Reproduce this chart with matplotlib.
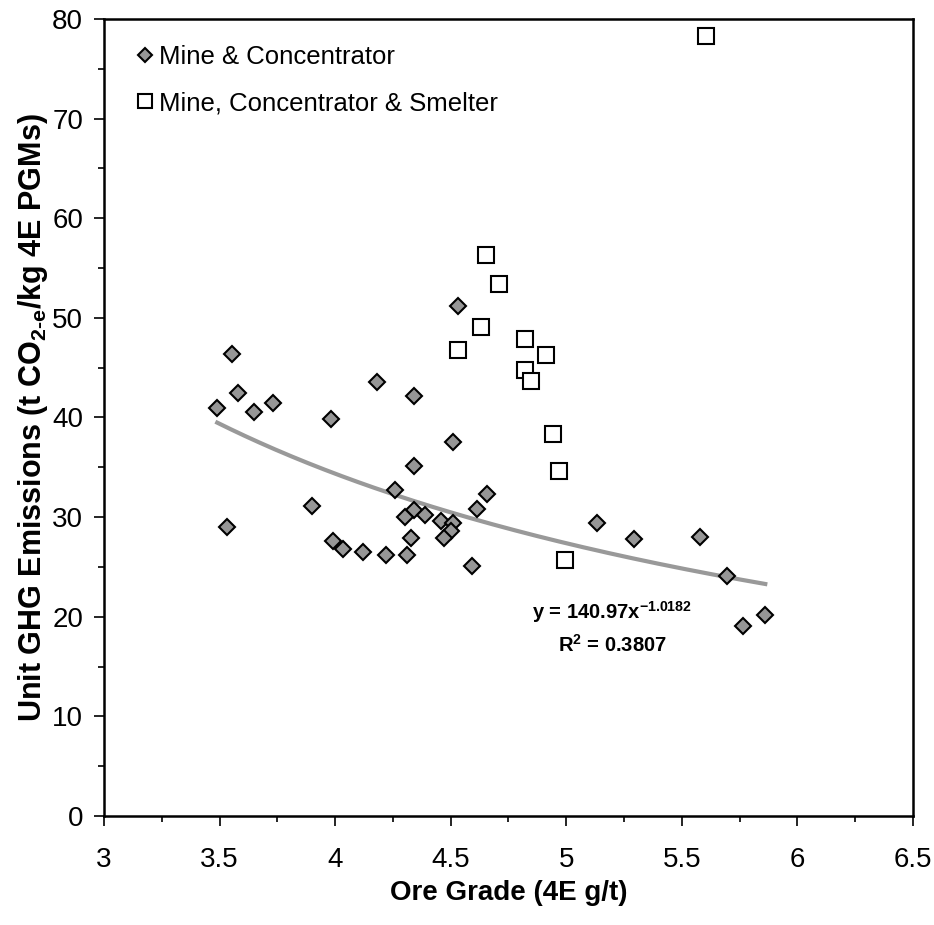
import numpy as np
import matplotlib
matplotlib.use('Agg')
import matplotlib.pyplot as plt
from matplotlib.ticker import MultipleLocator

plt.rcParams['font.family'] = ['Liberation Sans', 'DejaVu Sans']
plt.rcParams['mathtext.fontset'] = 'custom'
plt.rcParams['mathtext.rm'] = 'Liberation Sans:bold'
plt.rcParams['mathtext.bf'] = 'Liberation Sans:bold'
plt.rcParams['mathtext.default'] = 'bf'

# Mine & Concentrator
mc_grade = [3.553, 3.581, 3.490, 3.649, 3.730, 3.531, 3.981, 4.181, 4.341, 4.512,
            4.341, 4.261, 3.900, 4.659, 4.612, 4.341, 4.301, 4.390, 4.459, 4.512,
            4.503, 4.471, 4.330, 3.989, 4.032, 4.122, 4.220, 4.312, 4.592, 4.532,
            5.132, 5.291, 5.579, 5.694, 5.861, 5.763]
mc_ghg = [46.4, 42.5, 41.0, 40.6, 41.5, 29.0, 39.8, 43.6, 42.2, 37.5,
          35.1, 32.7, 31.1, 32.3, 30.8, 30.7, 30.0, 30.2, 29.6, 29.4,
          28.6, 27.9, 27.9, 27.6, 26.8, 26.5, 26.2, 26.2, 25.1, 51.2,
          29.4, 27.8, 28.0, 24.1, 20.2, 19.1]

# Mine, Concentrator & Smelter
mcs_grade = [4.653, 4.711, 4.631, 4.530, 4.823, 4.911, 4.822, 4.849, 4.943, 4.970,
             4.993, 5.604]
mcs_ghg = [56.3, 53.4, 49.1, 46.8, 47.9, 46.3, 44.8, 43.7, 38.3, 34.6,
           25.7, 78.3]

# power trend line y = a * x^b
fit_a = 140.97
fit_b = -1.0182
fit_r2 = 0.3807

fig = plt.figure(figsize=(9.34, 9.25), dpi=100)
ax = fig.add_axes([0.1113, 0.1178, 0.8662, 0.8617])

xs = np.linspace(min(mc_grade), max(mc_grade), 200)
ax.plot(xs, fit_a * xs ** fit_b, color='#999999', lw=3, zorder=2)

ax.plot(mc_grade, mc_ghg, ls='none', marker='D', ms=8, mfc='#969696', mec='black',
        mew=1.5, label='Mine & Concentrator', zorder=3)
ax.plot(mcs_grade, mcs_ghg, ls='none', marker='s', ms=11, mfc='white', mec='black',
        mew=1.5, label='Mine, Concentrator & Smelter', zorder=3)

ax.text(5.198, 20.5, r'y = 140.97x$^{%.4f}$' % fit_b, fontsize=14.5, fontweight='bold',
        ha='center', va='center')
ax.text(5.198, 17.2, r'R$^{2}$ = %.4f' % fit_r2, fontsize=14.5, fontweight='bold',
        ha='center', va='center')

ax.set_xlim(3, 6.5)
ax.set_ylim(0, 80)
ax.xaxis.set_major_locator(MultipleLocator(0.5))
ax.xaxis.set_minor_locator(MultipleLocator(0.25))
ax.yaxis.set_major_locator(MultipleLocator(10))
ax.yaxis.set_minor_locator(MultipleLocator(5))
ax.set_xticks(np.arange(3, 6.51, 0.5))
ax.set_xticklabels(['3', '3.5', '4', '4.5', '5', '5.5', '6', '6.5'])

ax.tick_params(which='major', direction='out', length=7, width=1.2, labelsize=20)
ax.tick_params(which='minor', direction='out', length=4, width=1.2)
ax.tick_params(axis='y', pad=8)
ax.tick_params(axis='x', pad=15)
for s in ax.spines.values():
    s.set_linewidth(1.8)

ax.set_xlabel('Ore Grade (4E g/t)', fontsize=20, fontweight='bold', va='center')
ax.xaxis.set_label_coords(0.5, -0.097)
ax.set_ylabel(r'Unit GHG Emissions (t CO$_{2\text{-}e}$/kg 4E PGMs)', fontsize=22,
              fontweight='bold', va='center')
ax.yaxis.set_label_coords(-0.088, 0.5)

ax.legend(loc='upper left', frameon=False, fontsize=18.5, markerscale=0.95,
          handlelength=0.6, handletextpad=0.25, labelspacing=0.85,
          borderaxespad=0.0, bbox_to_anchor=(0.028, 0.98))

fig.savefig('out.png', dpi=100)
